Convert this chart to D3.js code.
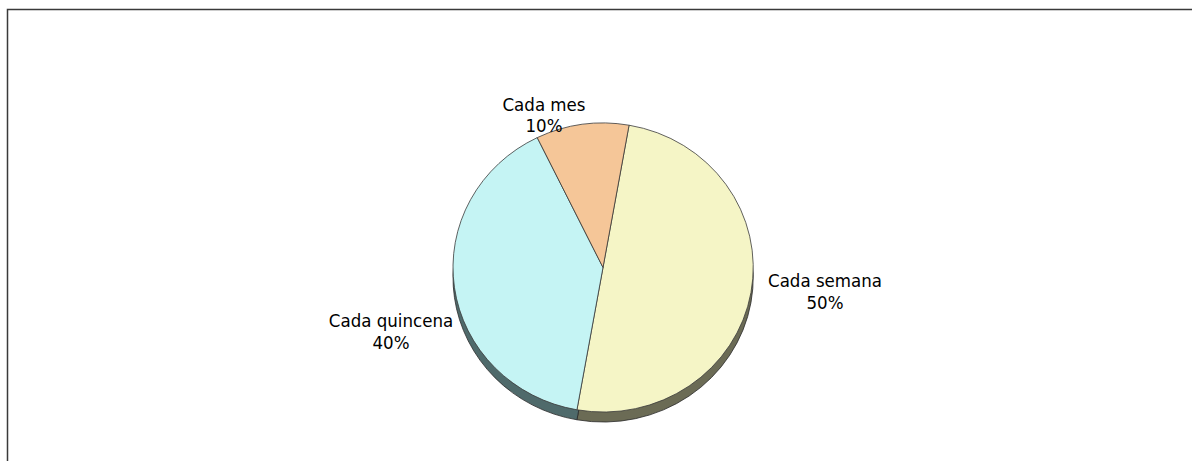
<!DOCTYPE html>
<html>
<head>
<meta charset="utf-8">
<script src="https://cdn.jsdelivr.net/npm/d3@7"></script>
<style>
  html, body { margin: 0; padding: 0; background: #ffffff; }
  svg { display: block; }
  text { font-family: "DejaVu Sans Condensed", "DejaVu Sans", sans-serif; font-stretch: condensed; fill: #000; }
</style>
</head>
<body>
<svg id="chart" width="1192" height="461"></svg>
<script>
// Frequency shares
const categories = ["Cada semana", "Cada quincena", "Cada mes"];
const values = [50, 40, 10];
const valueLabels = ["50%", "40%", "10%"];
const topColors = ["#f5f5c6", "#c5f4f4", "#f5c698"];
const sideColors = ["#6b6b55", "#4f6a6b", "#6b5a46"];

const svg = d3.select("#chart");
const W = 1192, H = 461;

// outer frame (open to the right and bottom)
svg.append("path")
  .attr("d", `M7.5,${H} L7.5,9.5 L${W},9.5`)
  .attr("fill", "none")
  .attr("stroke", "#3a3a3a")
  .attr("stroke-width", 1.5);

const cx = 603, cy = 267.5;
const rx = 150, ry = 144.5, depth = 10;
const startAngle = 10 * Math.PI / 180;

const pie = d3.pie().sort(null).value(d => d)
  .startAngle(startAngle).endAngle(startAngle + 2 * Math.PI);
const arcs = pie(values);
const arc = d3.arc().innerRadius(0).outerRadius(rx);

// depth layer, shifted down and flattened to the same ellipse
const sideLayer = svg.append("g")
  .attr("transform", `translate(${cx},${cy + depth}) scale(1,${ry / rx})`);
sideLayer.selectAll("path").data(arcs).join("path")
  .attr("d", arc)
  .attr("fill", (d, i) => sideColors[i])
  .attr("stroke", "#2a2a2a")
  .attr("stroke-width", 0.8)
  .attr("vector-effect", "non-scaling-stroke");

// top face
const faceLayer = svg.append("g")
  .attr("transform", `translate(${cx},${cy}) scale(1,${ry / rx})`);
faceLayer.selectAll("path").data(arcs).join("path")
  .attr("d", arc)
  .attr("fill", (d, i) => topColors[i])
  .attr("stroke", "#3a3a3a")
  .attr("stroke-width", 0.8)
  .attr("vector-effect", "non-scaling-stroke");

// category labels with percentage below
const labelPos = [
  { x: 825, y: 287 },
  { x: 391, y: 327 },
  { x: 544, y: 110.5 }
];
const labels = svg.append("g");
arcs.forEach((d, i) => {
  const t = labels.append("text")
    .attr("x", labelPos[i].x)
    .attr("y", labelPos[i].y)
    .attr("text-anchor", "middle")
    .attr("font-size", 18.5);
  t.append("tspan").attr("x", labelPos[i].x).text(categories[i]);
  t.append("tspan").attr("x", labelPos[i].x).attr("dy", 21.5).text(valueLabels[i]);
});
</script>
</body>
</html>
